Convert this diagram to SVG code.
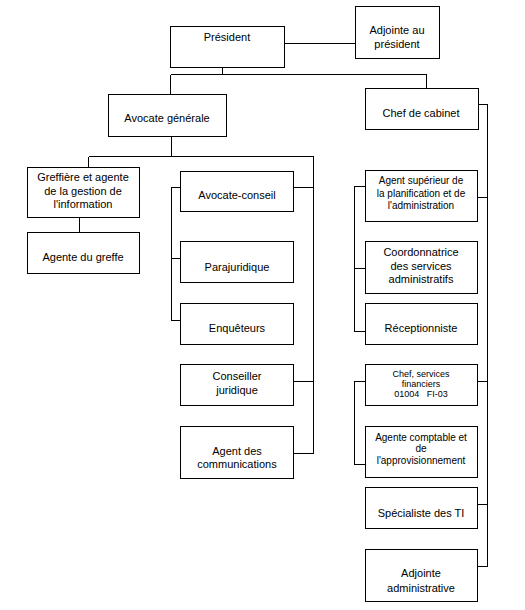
<svg xmlns="http://www.w3.org/2000/svg" width="525" height="610" viewBox="0 0 525 610">
<style>
.b{fill:#fff;stroke:#000;stroke-width:1}
.c{fill:none;stroke:#000;stroke-width:1}
text{font-family:"Liberation Sans",Arial,sans-serif;font-size:11px;fill:#000;text-anchor:middle}
.s{font-size:10px}
.xs{font-size:9px}
</style>
<rect width="525" height="610" fill="#fff"/>
<g id="connectors" shape-rendering="crispEdges">
<path class="c" d="M284.5,43.5H355.5"/>
<path class="c" d="M222.5,67.5V74.5M170.5,74.5H426.5M170.5,74.5V94.5M426.5,74.5V88.5"/>
<path class="c" d="M171.5,136.5V156.5M88.5,156.5H313.5M88.5,156.5V167.5M313.5,156.5V453.5"/>
<path class="c" d="M79.5,217.5V232.5"/>
<path class="c" d="M293.5,187.5H313.5M293.5,381.5H313.5M293.5,453.5H313.5"/>
<path class="c" d="M180.5,187.5H171.5V320.5H180.5M171.5,258.5H180.5"/>
<path class="c" d="M478.5,104.5H487.5V566.5M477.5,197.5H487.5M477.5,381.5H487.5M477.5,504.5H487.5M477.5,566.5H487.5"/>
<path class="c" d="M365.5,186.5H354.5V331.5H365.5M354.5,268.5H365.5"/>
<path class="c" d="M365.5,381.5H354.5V464.5H365.5"/>
</g>
<g id="president"><rect class="b" x="170.5" y="26.5" width="114" height="41"/><text x="227" y="41">Président</text></g>
<g id="adjointe-president"><rect class="b" x="355.5" y="6.5" width="84" height="52"/><text x="397" y="34">Adjointe au</text><text x="397" y="48">président</text></g>
<g id="avocate-generale"><rect class="b" x="108.5" y="94.5" width="118" height="42"/><text x="167" y="122">Avocate générale</text></g>
<g id="chef-cabinet"><rect class="b" x="365.5" y="88.5" width="113" height="41"/><text x="421" y="117">Chef de cabinet</text></g>
<g id="greffiere"><rect class="b" x="27.5" y="167.5" width="112" height="50"/><text x="83" y="181">Greffière et agente</text><text x="83" y="194.5">de la gestion de</text><text x="83" y="208">l'information</text></g>
<g id="agente-greffe"><rect class="b" x="27.5" y="232.5" width="112" height="41"/><text x="83" y="261">Agente du greffe</text></g>
<g id="avocate-conseil"><rect class="b" x="180.5" y="171.5" width="113" height="40"/><text x="237" y="199">Avocate-conseil</text></g>
<g id="parajuridique"><rect class="b" x="180.5" y="241.5" width="113" height="41"/><text x="237" y="271">Parajuridique</text></g>
<g id="enqueteurs"><rect class="b" x="180.5" y="303.5" width="113" height="41"/><text x="237" y="332">Enquêteurs</text></g>
<g id="conseiller-juridique"><rect class="b" x="180.5" y="364.5" width="113" height="41"/><text x="237" y="380">Conseiller</text><text x="237" y="394">juridique</text></g>
<g id="agent-communications"><rect class="b" x="180.5" y="426.5" width="113" height="52"/><text x="237" y="455">Agent des</text><text x="237" y="468">communications</text></g>
<g id="agent-superieur"><rect class="b" x="365.5" y="170.5" width="112" height="51"/><text class="s" x="421" y="183.5">Agent supérieur de</text><text class="s" x="421" y="196.5">la planification et de</text><text class="s" x="421" y="209">l'administration</text></g>
<g id="coordonnatrice"><rect class="b" x="365.5" y="241.5" width="112" height="52"/><text x="421" y="256">Coordonnatrice</text><text x="421" y="270">des services</text><text x="421" y="283">administratifs</text></g>
<g id="receptionniste"><rect class="b" x="365.5" y="303.5" width="112" height="41"/><text x="421" y="332">Réceptionniste</text></g>
<g id="chef-services-financiers"><rect class="b" x="365.5" y="364.5" width="112" height="41"/><text class="xs" x="421" y="377">Chef, services</text><text class="xs" x="421" y="387">financiers</text><text class="xs" x="421" y="397" xml:space="preserve">01004   FI-03</text></g>
<g id="agente-comptable"><rect class="b" x="365.5" y="426.5" width="112" height="51"/><text class="s" x="421" y="441">Agente comptable et</text><text class="s" x="421" y="452">de</text><text class="s" x="421" y="464">l'approvisionnement</text></g>
<g id="specialiste-ti"><rect class="b" x="365.5" y="487.5" width="112" height="41"/><text x="421" y="517">Spécialiste des TI</text></g>
<g id="adjointe-administrative"><rect class="b" x="365.5" y="549.5" width="112" height="52"/><text x="421" y="577">Adjointe</text><text x="421" y="592">administrative</text></g>
</svg>
